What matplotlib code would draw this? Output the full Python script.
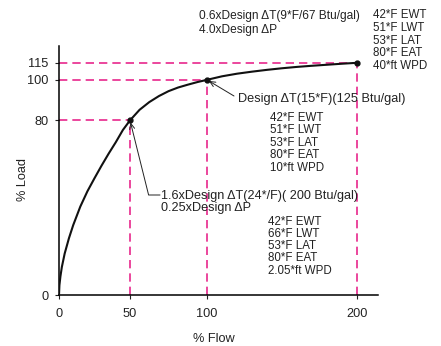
import numpy as np
import matplotlib
matplotlib.use("Agg")
from matplotlib import pyplot as plt

plt.rcParams['font.family'] = ['Liberation Sans', 'DejaVu Sans']

# curve (% flow, % load)
flow = [0, 0.3, 1, 2, 4, 7, 10, 15, 20, 25, 30, 35, 40, 45, 50,
        56.2, 62.5, 68.8, 75, 81.2, 87.5, 93.8, 100,
        110, 120, 130, 140, 150, 160, 170, 180, 190, 200]
load = [0, 4.5, 8.5, 12.8, 19, 26, 32, 40.5, 47.5, 53.5, 59.3, 64.8, 70, 75.6, 80,
        85.2, 89.0, 92.0, 94.4, 96.2, 97.6, 98.9, 100,
        103.1, 105.4, 107.2, 108.8, 110.2, 111.4, 112.4, 113.3, 114.2, 115]

# marked operating points
pt_flow = [50, 100, 200]
pt_load = [80, 100, 115]

x_ticks = [0, 50, 100, 200]
y_ticks = [0, 80, 100, 115]

top_note = ["0.6xDesign \u0394T(9*F/67 Btu/gal)", "4.0xDesign \u0394P"]
top_block = ["42*F EWT", "51*F LWT", "53*F LAT", "80*F EAT", "40*ft WPD"]
mid_note = "Design \u0394T(15*F)(125 Btu/gal)"
mid_block = ["42*F EWT", "51*F LWT", "53*F LAT", "80*F EAT", "10*ft WPD"]
low_note = ["1.6xDesign \u0394T(24*/F)( 200 Btu/gal)", "0.25xDesign \u0394P"]
low_block = ["42*F EWT", "66*F LWT", "53*F LAT", "80*F EAT", "2.05*ft WPD"]

PINK = '#e8288c'
INK = '#222222'
W, H = 441, 346

# the original axes are not evenly spaced, so map them piecewise
xb = [-10, 0, 50, 100, 200, 250]
xp = [-15, 0, 71, 148, 298, 373]
yb = [-10, 0, 80, 100, 115, 140]
yp = [-22, 0, 174.5, 215, 232, 260]

fig = plt.figure(figsize=(W / 100, H / 100), dpi=100)
ax = fig.add_axes([59 / W, 1 - 295 / H, (378 - 59) / W, (295 - 46) / H])
ax.set_xscale('function', functions=(lambda v: np.interp(v, xb, xp),
                                     lambda v: np.interp(v, xp, xb)))
ax.set_yscale('function', functions=(lambda v: np.interp(v, yb, yp),
                                     lambda v: np.interp(v, yp, yb)))
ax.set_xlim(0, 214)
ax.set_ylim(0, 130)

# guide lines
dash = dict(color=PINK, lw=1.2, ls=(0, (5, 3)), zorder=1)
for fx, ly in zip(pt_flow, pt_load):
    ax.plot([0, fx], [ly, ly], **dash)
    ax.plot([fx, fx], [0, ly], **dash)

ax.plot(flow, load, color='#111111', lw=1.5, zorder=3, solid_joinstyle='round')
ax.plot(pt_flow, pt_load, 'o', color='#111111', ms=3.5, zorder=4)

for s in ['top', 'right']:
    ax.spines[s].set_visible(False)
for s in ['left', 'bottom']:
    ax.spines[s].set_linewidth(1.1)
ax.set_xticks(x_ticks)
ax.set_yticks(y_ticks)
ax.xaxis.set_minor_locator(matplotlib.ticker.NullLocator())
ax.yaxis.set_minor_locator(matplotlib.ticker.NullLocator())
ax.tick_params(axis='x', length=3, width=0.8, pad=6.5, labelsize=9.2, colors=INK)
ax.tick_params(axis='y', length=3, width=0.8, pad=4.3, labelsize=9.2, colors=INK)

fig.text(214 / W, 1 - 339 / H, "% Flow", ha='center', va='center', fontsize=9.2, color=INK)
fig.text(22.7 / W, 1 - 179 / H, "% Load", ha='center', va='center', fontsize=9.2,
         rotation=90, color=INK)

def block(lines, x, y0, step=12.4, size=8.3):
    for i, t in enumerate(lines):
        fig.text(x / W, 1 - (y0 + i * step) / H, t, ha='left', va='center',
                 fontsize=size, color=INK)

block(top_note, 199, 16, 14, size=8.6)
block(top_block, 373, 15.5, 12.6)
block([mid_note], 237.5, 99, size=9.2)
block(mid_block, 270, 117.7, 12.5)
block(low_note, 161, 195.7, 12.6, size=9.1)
block(low_block, 268, 221.7, 12.2)

arrow = dict(arrowstyle='->,head_length=0.4,head_width=0.18', lw=0.7, color=INK,
             shrinkA=0, shrinkB=1.5)
ax.annotate('', xy=(100, 100), xytext=(234, H - 96), textcoords='figure pixels',
            arrowprops=arrow)
ax.annotate('', xy=(50, 80), xytext=(160, H - 195), textcoords='figure pixels',
            arrowprops=dict(arrow, connectionstyle='angle,angleA=0,angleB=-76,rad=0'))

fig.savefig('out.png', dpi=100)
